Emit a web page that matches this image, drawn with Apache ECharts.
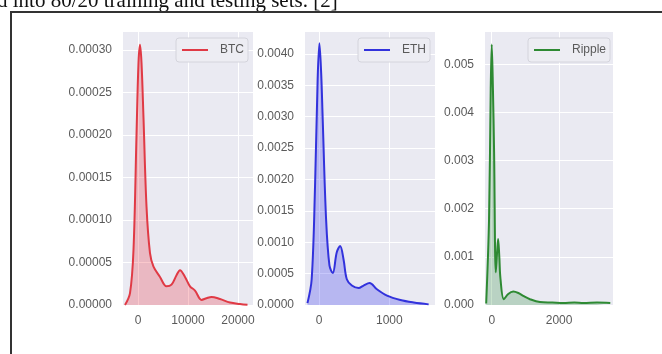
<!DOCTYPE html>
<html>
<head>
<meta charset="utf-8">
<script src="https://cdn.jsdelivr.net/npm/echarts@6/dist/echarts.min.js"></script>
<style>
    html, body { margin: 0; padding: 0; background: #fff; }
    #main { width: 662px; height: 354px; }
</style>
</head>
<body>
<div id="main"></div>
<script>
// BTC density curve
let btcX = [-2600, -1600, -900, -300, 100, 400, 700, 1100, 1700, 2400, 3100, 4400, 5700, 6700, 7700, 8400, 9400, 10400, 11400, 12700, 13700, 14700, 16400, 18400, 20400, 21900];
let btcY = [0, 0.000014, 0.000065, 0.0002, 0.000285, 0.000306, 0.000285, 0.00022, 0.000116, 0.000061, 0.000045, 0.000033, 0.000022, 0.000024, 0.000035, 0.000041, 0.000033, 0.000022, 0.000017, 0.000006, 0.000008, 0.0000095, 0.000007, 0.000003, 0.0000012, 0.0000002];

// ETH density curve
let ethX = [-165, -105, -57, -20, 5, 30, 52, 100, 148, 195, 252, 300, 348, 395, 467, 562, 633, 719, 824, 967, 1157, 1348, 1560];
let ethY = [0.00003, 0.00041, 0.0019, 0.0036, 0.00417, 0.0037, 0.00296, 0.00137, 0.00063, 0.00051, 0.00084, 0.00094, 0.00073, 0.00041, 0.00031, 0.00027, 0.00031, 0.00035, 0.00025, 0.00015, 0.00008, 0.00004, 0.00001];

// Ripple density curve
let rippleX = [-165, -80, -30, 0, 35, 70, 120, 160, 190, 225, 260, 360, 490, 640, 790, 935, 1135, 1430, 1800, 2130, 2450, 2725, 3125, 3520];
let rippleY = [0.00003, 0.00178, 0.0045, 0.00541, 0.0045, 0.00317, 0.00068, 0.0011, 0.00137, 0.001, 0.00054, 0.00012, 0.00023, 0.00028, 0.00025, 0.00019, 0.00012, 0.00006, 0.00005, 0.00004, 0.00005, 0.00004, 0.00005, 0.00004];

// tick labels
let btcXTicks = [0, 10000, 20000];
let btcYTicks = [0, 0.00005, 0.0001, 0.00015, 0.0002, 0.00025, 0.0003];
let ethXTicks = [0, 1000];
let ethYTicks = [0, 0.0005, 0.001, 0.0015, 0.002, 0.0025, 0.003, 0.0035, 0.004];
let rippleXTicks = [0, 2000];
let rippleYTicks = [0, 0.001, 0.002, 0.003, 0.004, 0.005];

let names = ["BTC", "ETH", "Ripple"];

let dom = document.getElementById("main");
let myChart = echarts.init(dom, null, {
    renderer: "canvas",
    useDirtyRect: false,
});
let option;

const font = "Liberation Sans";
const labelColor = "#5a5a5a";

function pairs(xs, ys) {
    return xs.map((x, i) => [x, ys[i]]);
}

function xAxisFor(idx, min, max, ticks) {
    return {
        type: "value",
        gridIndex: idx,
        min: min,
        max: max,
        axisLine: { show: false },
        axisTick: { show: false, customValues: ticks },
        axisLabel: {
            customValues: ticks,
            color: labelColor,
            fontFamily: font,
            fontSize: 12,
            margin: 10,
            formatter: (v) => String(v),
        },
        splitLine: { show: true, lineStyle: { color: "#fff", width: 1 } },
    };
}

function yAxisFor(idx, max, ticks, digits) {
    return {
        type: "value",
        gridIndex: idx,
        min: 0,
        max: max,
        axisLine: { show: false },
        axisTick: { show: false, customValues: ticks },
        axisLabel: {
            customValues: ticks,
            color: labelColor,
            fontFamily: font,
            fontSize: 12,
            margin: 11,
            formatter: (v) => v.toFixed(digits),
        },
        splitLine: { show: true, lineStyle: { color: "#fff", width: 1 } },
    };
}

function gridFor(left, width) {
    return {
        left: left,
        top: 32,
        width: width,
        height: 273,
        show: true,
        backgroundColor: "#eaeaf2",
        borderWidth: 0,
    };
}

function legendFor(name, left) {
    return {
        data: [name],
        left: left,
        top: 38,
        orient: "horizontal",
        icon: "rect",
        itemWidth: 26,
        itemHeight: 2,
        padding: [6, 4, 6, 6],
        backgroundColor: "#ededf3",
        borderColor: "#d4d4dc",
        borderWidth: 1,
        borderRadius: 3,
        textStyle: { color: labelColor, fontFamily: font, fontSize: 12, padding: [0, 0, 0, 7] },
    };
}

function seriesFor(name, idx, xs, ys, line, fill) {
    return {
        name: name,
        type: "line",
        xAxisIndex: idx,
        yAxisIndex: idx,
        data: pairs(xs, ys),
        smooth: 0.35,
        symbol: "none",
        lineStyle: { color: line, width: 2 },
        itemStyle: { color: line },
        areaStyle: { color: fill, origin: "start" },
    };
}

option = {
    animation: false,
    backgroundColor: "#fff",
    grid: [gridFor(123, 130), gridFor(305, 130), gridFor(485, 128)],
    legend: [legendFor("BTC", 176), legendFor("ETH", 358), legendFor("Ripple", 528)],
    xAxis: [
        xAxisFor(0, -3000, 23000, btcXTicks),
        xAxisFor(1, -200, 1650, ethXTicks),
        xAxisFor(2, -200, 3600, rippleXTicks),
    ],
    yAxis: [
        yAxisFor(0, 0.000321, btcYTicks, 5),
        yAxisFor(1, 0.00435, ethYTicks, 4),
        yAxisFor(2, 0.00567, rippleYTicks, 3),
    ],
    series: [
        seriesFor(names[0], 0, btcX, btcY, "#e03a45", "rgba(238,50,64,0.38)"),
        seriesFor(names[1], 1, ethX, ethY, "#3232dc", "rgba(30,30,240,0.36)"),
        seriesFor(names[2], 2, rippleX, rippleY, "#2e8a33", "rgba(20,130,30,0.32)"),
    ],
    graphic: [
        {
            type: "text",
            left: -3,
            top: -9,
            style: {
                text: "d into 80/20 training and testing sets. [2]",
                font: "21px 'Liberation Serif'",
                fill: "#111",
            },
        },
        {
            type: "polyline",
            shape: { points: [[11, 354], [11, 12], [662, 12]] },
            style: { stroke: "#333", lineWidth: 2, fill: null },
        },
    ],
};

if (option && typeof option === "object") {
    myChart.setOption(option);
}

window.addEventListener("resize", myChart.resize);
</script>
</body>
</html>
